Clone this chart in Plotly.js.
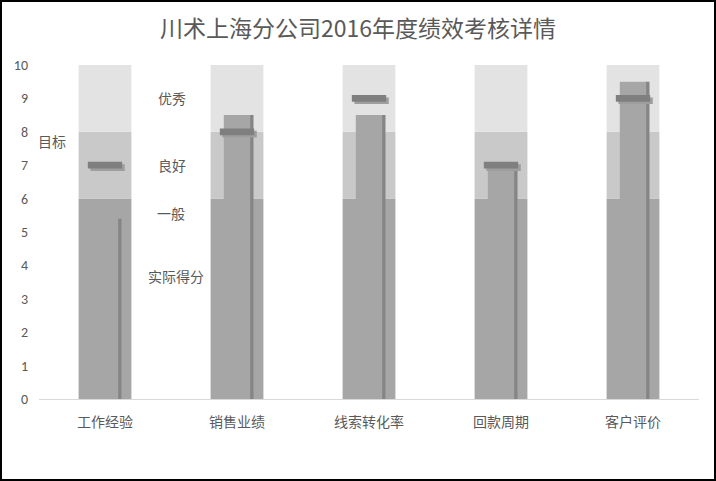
<!DOCTYPE html>
<html>
<head>
<meta charset="utf-8">
<script src="https://cdn.plot.ly/plotly-3.0.1.min.js"></script>
<style>
  body { margin: 0; }
  #wrap { position: relative; width: 716px; height: 481px; }
  #frame { position: absolute; left: 0; top: 0; width: 712px; height: 477px; border: 2px solid #000; pointer-events: none; }
</style>
</head>
<body>
<div id="wrap">
  <div id="chart" style="width:716px;height:481px;"></div>
  <div id="frame"></div>
</div>
<script>
var categories = ['工作经验', '销售业绩', '线索转化率', '回款周期', '客户评价'];
var general = [6, 6, 6, 6, 6];        // 一般 0-6
var good = [2, 2, 2, 2, 2];           // 良好 6-8
var excellent = [2, 2, 2, 2, 2];      // 优秀 8-10
var actual = [5.4, 8.5, 8.5, 7, 9.5]; // 实际得分
var target = [7, 8, 9, 7, 9];         // 目标

var font = '"Noto Sans CJK SC", "Noto Sans", sans-serif';
var txt = '#595959';

var bandW = 0.4, barW = 0.2, markW = 0.26;

var bands = [
    { name: '一般', x: categories, y: general, base: 0, type: 'bar', width: bandW, marker: { color: '#a6a6a6' } },
    { name: '良好', x: categories, y: good, base: general, type: 'bar', width: bandW, marker: { color: '#c9c9c9' } },
    { name: '优秀', x: categories, y: excellent, base: general.map(function (g, i) { return g + good[i]; }), type: 'bar', width: bandW, marker: { color: '#e3e3e3' } }
];

// shadow on right side of actual bar
var actualShadow = {
    name: 'shadow', x: categories, y: actual, type: 'bar',
    width: 0.03, offset: barW / 2 - 0.005,
    marker: { color: '#858585' }
};
var actualBar = {
    name: '实际得分', x: categories, y: actual, type: 'bar',
    width: barW, marker: { color: '#a6a6a6' }
};

var markH = 0.2;
var targetShadow = {
    name: 'tshadow', x: categories, y: target.map(function () { return markH; }),
    base: target.map(function (t) { return t - markH / 2 - 0.07; }),
    type: 'bar', width: markW, offset: -markW / 2 + 0.02,
    marker: { color: '#9e9e9e' }
};
var targetBar = {
    name: '目标', x: categories, y: target.map(function () { return markH; }),
    base: target.map(function (t) { return t - markH / 2; }),
    type: 'bar', width: markW,
    marker: { color: '#7f7f7f' }
};

var data = bands.concat([actualShadow, actualBar, targetShadow, targetBar]);

var ann = function (text, x, y) {
    return { text: text, x: x, y: y, xref: 'x', yref: 'y', showarrow: false, font: { family: font, size: 14, color: txt } };
};

var layout = {
    width: 716,
    height: 481,
    barmode: 'overlay',
    showlegend: false,
    paper_bgcolor: '#fff',
    plot_bgcolor: '#fff',
    margin: { l: 39, r: 17, t: 65, b: 82 },
    font: { family: font, color: txt, size: 14 },
    title: { text: '川术上海分公司2016年度绩效考核详情', x: 0.5, xanchor: 'center', y: 0.957, font: { family: font, size: 23, color: txt } },
    xaxis: {
        type: 'category',
        range: [-0.5, 4.5],
        showgrid: false,
        showline: true,
        linecolor: '#d9d9d9',
        ticks: '',
        ticklabelstandoff: 10,
        tickfont: { size: 14, color: txt },
        fixedrange: true
    },
    yaxis: {
        range: [0, 10],
        dtick: 1,
        showgrid: false,
        zeroline: false,
        showline: false,
        ticks: '',
        ticklabelstandoff: 10,
        tickfont: { size: 14, color: txt, family: 'Carlito, Calibri, "Liberation Sans", sans-serif' },
        fixedrange: true
    },
    annotations: [
        ann('目标', -0.4, 7.72),
        ann('优秀', 0.51, 9.0),
        ann('良好', 0.51, 7.0),
        ann('一般', 0.5, 5.57),
        ann('实际得分', 0.54, 3.68)
    ]
};

Plotly.newPlot('chart', data, layout, { displayModeBar: false, staticPlot: true });
</script>
</body>
</html>
